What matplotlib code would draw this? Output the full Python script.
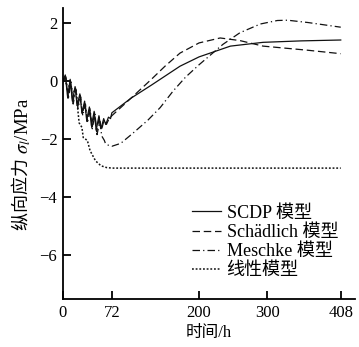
import matplotlib.pyplot as plt

plt.rcParams['font.family'] = ['Liberation Serif', 'Noto Sans CJK SC']
plt.rcParams['mathtext.fontset'] = 'stix'

# 时间 (h) 与纵向应力 (MPa)
t_scdp = [0, 3.6, 7, 10.8, 14, 18, 21, 25, 28, 32, 35, 39, 42, 46, 49, 53, 56, 60, 63, 67, 70,
          72, 100, 130, 172, 200, 246, 294, 350, 408]
s_scdp = [0, 0.2, -0.55, 0.05, -0.7, -0.2, -0.85, -0.45, -1.1, -0.7, -1.35, -0.9, -1.55, -1.05,
          -1.7, -1.2, -1.65, -1.3, -1.5, -1.25, -1.3,
          -1.1, -0.6, -0.15, 0.5, 0.82, 1.19, 1.32, 1.37, 1.4]

t_schad = [0, 4.2, 7.6, 11.4, 14.6, 18.6, 21.6, 25.6, 28.6, 32.6, 35.6, 39.6, 42.6, 46.6, 49.6,
           53.6, 56.6, 60.6, 64, 68,
           72, 100, 130, 150, 172, 200, 231, 260, 294, 359, 408]
s_schad = [0, 0.15, -0.6, 0.0, -0.75, -0.25, -0.9, -0.5, -1.15, -0.75, -1.4, -0.95, -1.6, -1.1,
           -1.75, -1.25, -1.7, -1.35, -1.5, -1.3,
           -1.2, -0.6, 0.05, 0.5, 0.95, 1.3, 1.47, 1.38, 1.19, 1.05, 0.93]

t_mesch = [0, 4.8, 8.2, 12, 15.2, 19.2, 22.2, 26.2, 29.2, 33.2, 36.2, 40.2, 43.2, 47.2, 50.2,
           54.2, 57.2, 61, 62.5, 65,
           72, 85, 103, 125, 143, 162, 180, 200, 235, 260, 290, 315, 330, 360, 408]
s_mesch = [0, 0.1, -0.6, -0.05, -0.8, -0.3, -0.95, -0.55, -1.2, -0.8, -1.45, -1.0, -1.65, -1.15,
           -1.85, -1.4, -1.9, -2.05, -2.15, -2.2,
           -2.25, -2.15, -1.8, -1.35, -0.92, -0.35, 0.12, 0.55, 1.25, 1.65, 1.95, 2.07, 2.08,
           2.0, 1.84]

t_lin = [0, 10, 20, 22, 24, 28, 30, 36, 40, 48, 56, 64, 72, 408]
s_lin = [0, -0.2, -0.45, -1.0, -1.45, -1.6, -1.95, -2.05, -2.4, -2.75, -2.92, -2.98, -3.0, -3.0]

xticks = [0, 72, 200, 300, 408]
yticks = [2, 0, -2, -4, -6]

fig = plt.figure(figsize=(3.59, 3.47), dpi=100)
ax = fig.add_axes([0.175, 0.138, 0.814, 0.839])

lw = 0.9
ax.plot(t_scdp, s_scdp, color='#111111', lw=lw, ls='-', label='SCDP 模型')
ax.plot(t_schad, s_schad, color='#111111', lw=lw, ls=(0, (6, 3)), label='Schädlich 模型')
ax.plot(t_mesch, s_mesch, color='#111111', lw=lw, ls=(0, (6, 2.5, 1, 2.5)), label='Meschke 模型')
ax.plot(t_lin, s_lin, color='#111111', lw=1.1, ls=(0, (1.2, 1.2)), label='线性模型')

ax.set_xlim(0, 429)
ax.set_ylim(-7.5, 2.5)
ax.set_xticks(xticks)
ax.set_yticks(yticks)
ax.set_yticklabels(['2', '0', '\u22122', '\u22124', '\u22126'])

for side in ['top', 'right']:
    ax.spines[side].set_visible(False)
for side in ['left', 'bottom']:
    ax.spines[side].set_linewidth(1.3)
ax.tick_params(direction='in', length=6, width=1.3, labelsize=12, pad=4)

ax.set_xlabel('时间/h', fontsize=12, labelpad=3)

# y 轴标题：中文部分与 σ_l/MPa 分开写，拼在一起
yl_x = 0.061
part1 = fig.text(yl_x, 0.337, '纵向应力 ', rotation=90, fontsize=13, weight='light',
                 family='Noto Sans CJK SC', ha='center', va='bottom')
fig.canvas.draw()
bb = part1.get_window_extent().transformed(fig.transFigure.inverted())
fig.text(yl_x + 0.004, bb.y1, r'$\sigma_l$/MPa', rotation=90, fontsize=13.5,
         family='Liberation Serif', ha='center', va='bottom')

ax.legend(loc='lower right', bbox_to_anchor=(0.985, 0.025), frameon=False, fontsize=13,
          handlelength=1.6, handletextpad=0.3, labelspacing=0.12, borderpad=0.2)

fig.savefig('out.png', dpi=100)
